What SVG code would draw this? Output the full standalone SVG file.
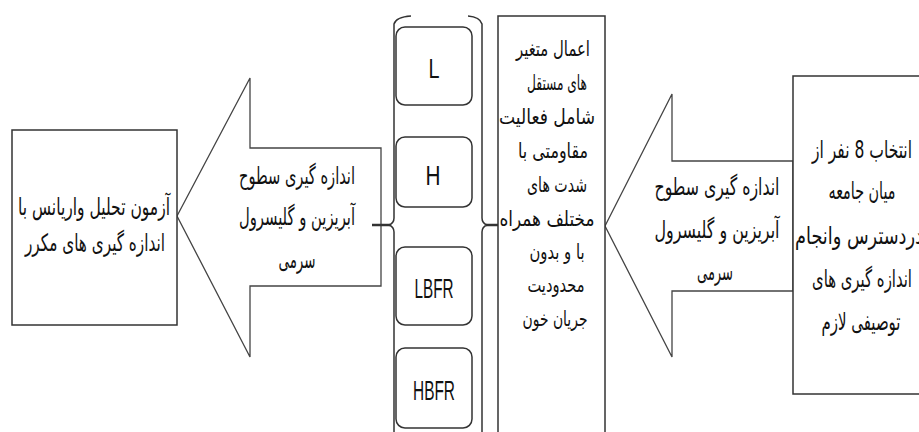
<svg xmlns="http://www.w3.org/2000/svg" width="919" height="432" viewBox="0 0 919 432">
<style>
.box{fill:#fff;stroke:#333;stroke-width:1.5}
.rbox{fill:#fff;stroke:#333;stroke-width:1.5}
.arrow{fill:#fff;stroke:#444;stroke-width:1.3;stroke-linejoin:miter}
.brace{fill:none;stroke:#333;stroke-width:1.5}
.link{stroke:#333;stroke-width:2.5}
.fa{font-family:"DejaVu Sans",sans-serif;font-size:24px;fill:#111;text-anchor:middle}
.fm{font-family:"DejaVu Sans",sans-serif;font-size:21px;fill:#111;text-anchor:middle}
.lat{font-family:"Liberation Sans",Arial,sans-serif;font-size:28px;fill:#111;text-anchor:middle}
</style>
<rect width="919" height="432" fill="#fff"/>
<g id="connectors">
  <g id="arrow-right">
    <polygon class="arrow" points="605,226 672,94 672,161 793,161 793,291 672,291 672,357"/>
    <text class="fa" x="717" y="195" textLength="125" lengthAdjust="spacingAndGlyphs">اندازه گیری سطوح</text>
    <text class="fa" x="717" y="238" textLength="125" lengthAdjust="spacingAndGlyphs">آبریزین و گلیسرول</text>
    <text class="fa" x="715" y="280" textLength="36" lengthAdjust="spacingAndGlyphs">سرمی</text>
  </g>
  <g id="arrow-left">
    <polygon class="arrow" points="177,216 250,78 250,148 381,148 381,286 250,286 250,357"/>
    <text class="fa" x="297" y="184" textLength="116" lengthAdjust="spacingAndGlyphs">اندازه گیری سطوح</text>
    <text class="fa" x="297" y="225" textLength="116" lengthAdjust="spacingAndGlyphs">آبریزین و گلیسرول</text>
    <text class="fa" x="297" y="268" textLength="37" lengthAdjust="spacingAndGlyphs">سرمی</text>
  </g>
  <line class="link" x1="372" y1="225" x2="390" y2="225"/>
  <line class="link" x1="486" y1="225" x2="500" y2="225"/>
</g>
<g id="node-result">
  <rect class="box" x="12" y="130" width="165" height="195"/>
  <text class="fa" x="94" y="215" textLength="152" lengthAdjust="spacingAndGlyphs">آزمون تحلیل واریانس با</text>
  <text class="fa" x="95" y="251" textLength="140" lengthAdjust="spacingAndGlyphs">اندازه گیری های مکرر</text>
</g>
<g id="node-group">
  <path class="brace" d="M411,16 Q396,17 394,24 L394,218 Q394,223 389,225 Q394,227 394,232 L394,440"/>
  <path class="brace" d="M468,16 Q480,17 482,24 L482,218 Q482,223 487,225 Q482,227 482,232 L482,440"/>
</g>
<g id="node-L">
  <rect class="rbox" x="396" y="27" width="76" height="78" rx="9"/>
  <text class="lat" x="434" y="78" textLength="11" lengthAdjust="spacingAndGlyphs">L</text>
</g>
<g id="node-H">
  <rect class="rbox" x="396" y="137" width="76" height="70" rx="9"/>
  <text class="lat" x="433" y="185" textLength="15" lengthAdjust="spacingAndGlyphs">H</text>
</g>
<g id="node-LBFR">
  <rect class="rbox" x="396" y="247" width="76" height="78" rx="9"/>
  <text class="lat" x="434" y="298" textLength="39" lengthAdjust="spacingAndGlyphs">LBFR</text>
</g>
<g id="node-HBFR">
  <rect class="rbox" x="396" y="348" width="76" height="80" rx="9"/>
  <text class="lat" x="434" y="400" textLength="42" lengthAdjust="spacingAndGlyphs">HBFR</text>
</g>
<g id="node-intervention">
  <rect class="box" x="498" y="16" width="107" height="430"/>
  <text class="fm" x="553" y="56" textLength="74" lengthAdjust="spacingAndGlyphs">اعمال متغیر</text>
  <text class="fm" x="557" y="90" textLength="60" lengthAdjust="spacingAndGlyphs">های مستقل</text>
  <text class="fm" x="547" y="124" textLength="96" lengthAdjust="spacingAndGlyphs">شامل  فعالیت</text>
  <text class="fm" x="553" y="158" textLength="70" lengthAdjust="spacingAndGlyphs">مقاومتی با</text>
  <text class="fm" x="557" y="192" textLength="60" lengthAdjust="spacingAndGlyphs">شدت های</text>
  <text class="fm" x="547" y="226" textLength="95" lengthAdjust="spacingAndGlyphs">مختلف همراه</text>
  <text class="fm" x="557" y="259" textLength="55" lengthAdjust="spacingAndGlyphs">با و بدون</text>
  <text class="fm" x="556" y="292" textLength="57" lengthAdjust="spacingAndGlyphs">محدودیت</text>
  <text class="fm" x="555" y="326" textLength="65" lengthAdjust="spacingAndGlyphs">جریان خون</text>
</g>
<g id="node-sample">
  <rect class="box" x="793" y="76" width="140" height="318"/>
  <text class="fa" x="862" y="158" textLength="100" lengthAdjust="spacingAndGlyphs">انتخاب 8 نفر از</text>
  <text class="fa" x="862" y="199" textLength="67" lengthAdjust="spacingAndGlyphs">میان جامعه</text>
  <text class="fa" x="859" y="244" textLength="128" lengthAdjust="spacingAndGlyphs">دردسترس وانجام</text>
  <text class="fa" x="862" y="287" textLength="100" lengthAdjust="spacingAndGlyphs">اندازه گیری های</text>
  <text class="fa" x="861" y="330" textLength="79" lengthAdjust="spacingAndGlyphs">توصیفی لازم</text>
</g>
</svg>
